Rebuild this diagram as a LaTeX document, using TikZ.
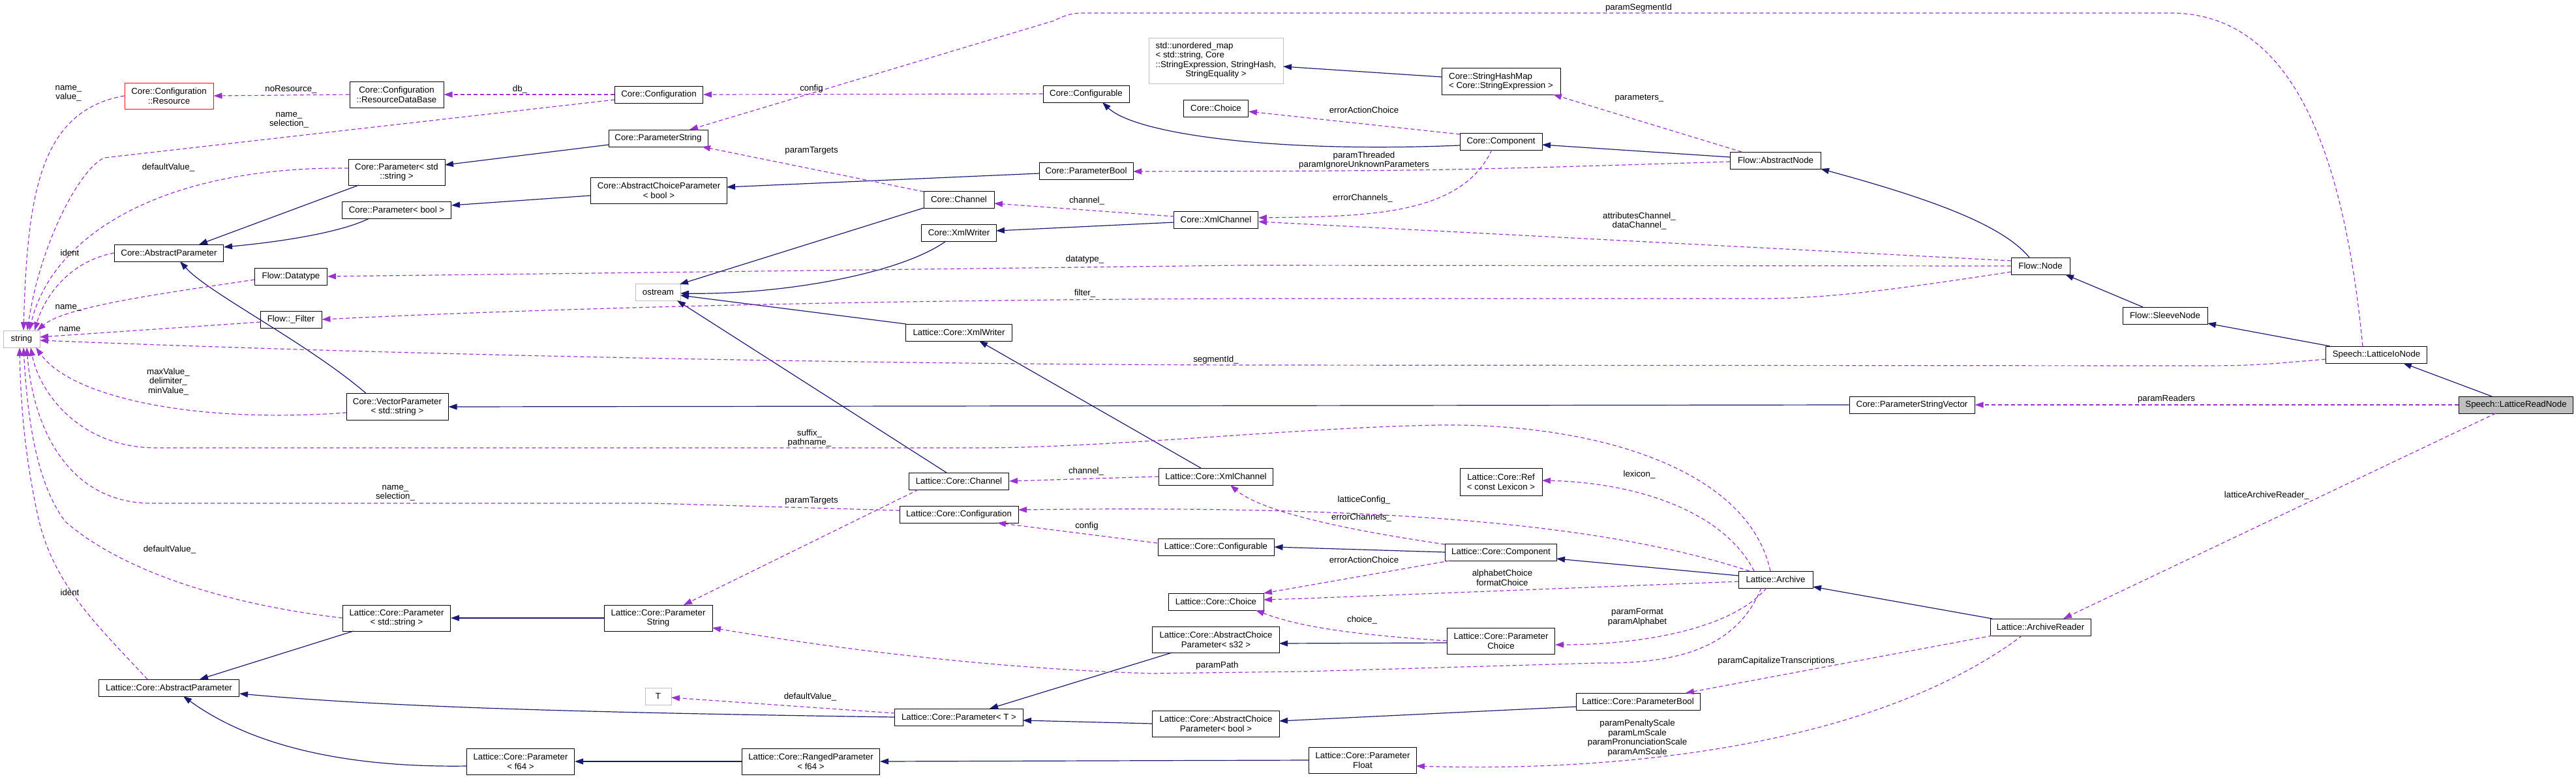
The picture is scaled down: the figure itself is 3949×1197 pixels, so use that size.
\documentclass[tikz,border=0pt]{standalone}
\usepackage{fontspec}
\setmainfont{Liberation Sans}
\usetikzlibrary{arrows.meta,calc}
\definecolor{inhcol}{HTML}{191970}
\definecolor{usecol}{HTML}{9A32CD}
\definecolor{lgray}{HTML}{BFBFBF}
\begin{document}
\begin{tikzpicture}[x=1pt,y=-1pt,
  cls/.style={draw=black, fill=white, line width=1pt, inner sep=0pt, align=center, font=\fontsize{13.3pt}{14.5pt}\selectfont},
  ext/.style={cls, draw=lgray},
  sz/.style 2 args={minimum width=#1pt, minimum height=#2pt},
  lbl/.style={inner sep=0pt, align=center, font=\fontsize{13.3pt}{14.5pt}\selectfont},
  inherit/.style={draw=inhcol, line width=1.2pt, -{Triangle[length=13pt,width=9pt]}},
  usage/.style={draw=usecol, line width=1.2pt, dash pattern=on 6pt off 4pt, -{Triangle[length=13pt,width=9pt]}},
]
\useasboundingbox (0,0) rectangle (3949,1197);
% ---------------- nodes ----------------
\node[cls, draw=red, sz={136}{40}] (resource) at (259,147) {Core::Configuration\\::Resource};
\node[cls, sz={144}{40}] (rdb) at (608,145) {Core::Configuration\\::ResourceDataBase};
\node[cls, sz={135}{26}] (cconf) at (1010,145) {Core::Configuration};
\node[cls, sz={152}{26}] (cpstr) at (1009,212) {Core::ParameterString};
\node[cls, sz={148}{40}] (cpstd) at (608,264) {Core::Parameter< std\\::string >};
\node[cls, sz={209}{40}] (cacpb) at (1010,292) {Core::AbstractChoiceParameter\\< bool >};
\node[cls, sz={167}{26}] (cpb) at (608,322) {Core::Parameter< bool >};
\node[cls, sz={167}{26}] (cap) at (259,388) {Core::AbstractParameter};
\node[ext, sz={206}{70}] (umap) at (1864,93) {\begin{tabular}{@{}l@{}}std::unordered\_map\\< std::string, Core\\::StringExpression, StringHash,\\\multicolumn{1}{@{}c@{}}{StringEquality >}\end{tabular}};
\node[cls, sz={132}{26}] (cconfigurable) at (1665,144) {Core::Configurable};
\node[cls, sz={99}{26}] (cchoice) at (1864,166) {Core::Choice};
\node[cls, sz={144}{26}] (cparambool) at (1665,262) {Core::ParameterBool};
\node[cls, sz={108}{26}] (cchannel) at (1470,306) {Core::Channel};
\node[cls, sz={129}{26}] (cxmlchannel) at (1864,337) {Core::XmlChannel};
\node[cls, sz={115}{26}] (cxmlwriter) at (1470,357) {Core::XmlWriter};
\node[cls, align=left, sz={182}{41}] (shm) at (2301,125) {Core::StringHashMap\\< Core::StringExpression >};
\node[cls, sz={126}{26}] (ccomponent) at (2301,217) {Core::Component};
\node[cls, sz={139}{26}] (fan) at (2722,246) {Flow::AbstractNode};
\node[cls, sz={111}{26}] (fdatatype) at (446,424) {Flow::Datatype};
\node[ext, sz={69}{26}] (ostream) at (1009,448) {ostream};
\node[cls, sz={94}{26}] (ffilter) at (446,490) {Flow::\_Filter};
\node[ext, sz={56}{26}] (string) at (33,520) {string};
\node[cls, sz={156}{41}] (cvp) at (609,624) {Core::VectorParameter\\< std::string >};
\node[cls, sz={163}{26}] (lxmlwriter) at (1470,510) {Lattice::Core::XmlWriter};
\node[cls, sz={153}{26}] (lchannel) at (1470,738) {Lattice::Core::Channel};
\node[cls, sz={175}{26}] (lxmlchannel) at (1864,731) {Lattice::Core::XmlChannel};
\node[cls, sz={182}{26}] (lconfiguration) at (1470,789) {Lattice::Core::Configuration};
\node[cls, sz={192}{26}] (cpsv) at (2931,621) {Core::ParameterStringVector};
\node[cls, sz={126}{42}] (lref) at (2301,739) {Lattice::Core::Ref\\< const Lexicon >};
\node[cls, sz={165}{40}] (lpstd) at (608,948) {Lattice::Core::Parameter\\< std::string >};
\node[cls, sz={215}{26}] (lap) at (259,1055) {Lattice::Core::AbstractParameter};
\node[cls, sz={165}{40}] (lpf64) at (798,1168) {Lattice::Core::Parameter\\< f64 >};
\node[cls, sz={166}{40}] (lpstring) at (1009,948) {Lattice::Core::Parameter\\String};
\node[ext, sz={40}{26}] (tnode) at (1009,1068) {T};
\node[cls, sz={178}{26}] (lconfigurable) at (1864,839) {Lattice::Core::Configurable};
\node[cls, sz={146}{26}] (lchoice) at (1864,923) {Lattice::Core::Choice};
\node[cls, sz={195}{40}] (lacps32) at (1864,981) {Lattice::Core::AbstractChoice\\Parameter< s32 >};
\node[cls, sz={197}{26}] (lpt) at (1470,1100) {Lattice::Core::Parameter< T >};
\node[cls, sz={195}{40}] (lacpbool) at (1864,1110) {Lattice::Core::AbstractChoice\\Parameter< bool >};
\node[cls, sz={211}{40}] (lrp) at (1243,1168) {Lattice::Core::RangedParameter\\< f64 >};
\node[cls, sz={171}{26}] (lcomponent) at (2301,847) {Lattice::Core::Component};
\node[cls, sz={114}{26}] (larchive) at (2722,889) {Lattice::Archive};
\node[cls, sz={165}{40}] (lpchoice) at (2301,983) {Lattice::Core::Parameter\\Choice};
\node[cls, sz={190}{26}] (lparambool) at (2511,1076) {Lattice::Core::ParameterBool};
\node[cls, sz={165}{40}] (lpfloat) at (2089,1166) {Lattice::Core::Parameter\\Float};
\node[cls, sz={154}{26}] (larchivereader) at (3128,962) {Lattice::ArchiveReader};
\node[cls, sz={90}{26}] (fnode) at (3128,408) {Flow::Node};
\node[cls, sz={130}{26}] (fsleeve) at (3319,484) {Flow::SleeveNode};
\node[cls, sz={155}{26}] (slionode) at (3643,544) {Speech::LatticeIoNode};
\node[cls, fill=lgray, sz={175}{26}] (slrn) at (3857,621) {Speech::LatticeReadNode};
% ---------------- inheritance ----------------
\draw[inherit] ($(cpstr)+(-76,10)$) -- ($(cpstd)+(74,-11)$);
\draw[inherit] ($(cpstd)+(-58,20)$) -- ($(cap)+(46,-13)$);
\draw[inherit] ($(cacpb)+(-105,8)$) -- ($(cpb)+(84,-7)$);
\draw[inherit] ($(cpb)+(-42,13)$) .. controls (520,358) and (420,372) .. ($(cap)+(84,-9)$);
\draw[inherit] ($(cparambool)+(-72,4)$) -- ($(cacpb)+(104,-5)$);
\draw[inherit] ($(ccomponent)+(-63,6)$) .. controls (1950,235) and (1740,205) .. ($(cconfigurable)+(25,13)$);
\draw[inherit] ($(fan)+(-70,-5)$) -- ($(ccomponent)+(63,5)$);
\draw[inherit] ($(fnode)+(-17,-13)$) .. controls (3070,345) and (2960,305) .. ($(fan)+(69,13)$);
\draw[inherit] ($(fsleeve)+(-34,-13)$) -- ($(fnode)+(38,13)$);
\draw[inherit] ($(slionode)+(-71,-13)$) -- ($(fsleeve)+(65,12)$);
\draw[inherit] ($(slrn)+(-37,-13)$) -- ($(slionode)+(41,13)$);
\draw[inherit] ($(cxmlchannel)+(-64,4)$) -- ($(cxmlwriter)+(57,-3)$);
\draw[inherit] ($(cchannel)+(-54,13)$) -- ($(ostream)+(33,-12)$);
\draw[inherit] ($(cxmlwriter)+(-20,13)$) .. controls (1380,420) and (1200,452) .. ($(ostream)+(34,2)$);
\draw[inherit] ($(lxmlwriter)+(-81,-13)$) -- ($(ostream)+(34,5)$);
\draw[inherit] ($(lchannel)+(-19,-13)$) -- ($(ostream)+(29,13)$);
\draw[inherit] ($(lxmlchannel)+(-23,-13)$) -- ($(lxmlwriter)+(31,13)$);
\draw[inherit] ($(cvp)+(-47,-20)$) .. controls (470,525) and (320,450) .. ($(cap)+(17,13)$);
\draw[inherit] (cpsv.west) -- (cvp.east);
\draw[inherit] (lpstring.west) -- (lpstd.east);
\draw[inherit] ($(lpstd)+(-66,20)$) -- ($(lap)+(47,-13)$);
\draw[inherit] (lpt.west) .. controls (900,1093) and (600,1085) .. ($(lap)+(108,9)$);
\draw[inherit] ($(lpf64)+(-82,7)$) .. controls (520,1178) and (380,1140) .. ($(lap)+(22,13)$);
\draw[inherit] (lrp.west) -- (lpf64.east);
\draw[inherit] (lpfloat.west) -- (lrp.east);
\draw[inherit] ($(lacps32)+(-67,20)$) -- ($(lpt)+(47,-13)$);
\draw[inherit] (lacpbool.west) -- ($(lpt)+(98,5)$);
\draw[inherit] ($(lparambool)+(-95,8)$) -- ($(lacpbool)+(97,-4)$);
\draw[inherit] ($(lpchoice)+(-82,3)$) -- ($(lacps32)+(97,6)$);
\draw[inherit] (lcomponent.west) -- (lconfigurable.east);
\draw[inherit] ($(larchive)+(-57,-6)$) -- ($(lcomponent)+(85,10)$);
\draw[inherit] ($(larchivereader)+(-74,-13)$) -- ($(larchive)+(57,11)$);
\draw[inherit] ($(shm)+(-91,-7)$) -- ($(umap)+(103,9)$);
% ---------------- usage ----------------
\draw[usage] (resource.west) .. controls (60,170) and (42,300) .. ($(string)+(3,-13)$);
\draw[usage] ($(cconf)+(-68,8)$) -- (160,242) .. controls (120,260) and (60,380) .. ($(string)+(9,-13)$);
\draw[usage] ($(cpstd)+(-74,-6)$) .. controls (250,255) and (80,360) .. ($(string)+(12,-13)$);
\draw[usage] (cap.west) .. controls (110,400) and (70,450) .. ($(string)+(20,-13)$);
\draw[usage] ($(fdatatype)+(-56,5)$) .. controls (250,450) and (100,470) .. ($(string)+(24,-13)$);
\draw[usage] ($(ffilter)+(-47,4)$) -- ($(string)+(28,-3)$);
\draw[usage] ($(slionode)+(-78,7)$) .. controls (3450,561) .. (3340,561) -- (1900,560) .. controls (1200,558) and (500,540) .. ($(string)+(28,2)$);
\draw[usage] (rdb.west) -- (resource.east);
\draw[usage] (cconf.west) -- (rdb.east);
\draw[usage] (cconfigurable.west) -- (cconf.east);
\draw[usage] ($(slionode)+(-21,-13)$) .. controls (3590,200) and (3500,20) .. (3327,20) -- (1660,20) .. controls (1640,20) and (1630,25) .. (1615,32) -- ($(cpstr)+(48,-13)$);
\draw[usage] ($(cchannel)+(-54,-12)$) -- ($(cpstr)+(67,13)$);
\draw[usage] ($(fan)+(-52,-13)$) -- ($(shm)+(80,20)$);
\draw[usage] ($(ccomponent)+(-63,-11)$) -- ($(cchoice)+(50,5)$);
\draw[usage] ($(fan)+(-70,2)$) .. controls (2200,262) .. ($(cparambool)+(72,1)$);
\draw[usage] ($(ccomponent)+(-14,13)$) .. controls (2240,330) and (2100,332) .. ($(cxmlchannel)+(65,-3)$);
\draw[usage] ($(fnode)+(-45,-8)$) -- ($(cxmlchannel)+(65,3)$);
\draw[usage] ($(cxmlchannel)+(-64,-5)$) -- ($(cchannel)+(54,6)$);
\draw[usage] (fnode.west) -- (1900,407) -- (fdatatype.east);
\draw[usage] ($(fnode)+(-45,9)$) .. controls (2900,445) and (2800,458) .. (2700,458) -- (1900,458) .. controls (1400,460) and (900,470) .. (ffilter.east);
\draw[usage] (slrn.west) -- (cpsv.east);
\draw[usage] ($(slrn)+(-31,13)$) -- ($(larchivereader)+(35,-13)$);
\draw[usage] (lxmlchannel.west) -- (lchannel.east);
\draw[usage] ($(lchannel)+(-62,13)$) -- ($(lpstring)+(39,-20)$);
\draw[usage] ($(lconfiguration)+(-91,-6)$) -- (1000,772) -- (230,772) .. controls (100,770) and (50,650) .. ($(string)+(8,13)$);
\draw[usage] ($(cvp)+(-78,9)$) .. controls (300,650) and (110,610) .. ($(string)+(22,13)$);
\draw[usage] ($(larchive)+(-8,-13)$) .. controls (2680,720) and (2450,650) .. (2210,652) .. controls (2000,655) and (1700,687) .. (1500,687) -- (240,687) .. controls (120,687) and (60,600) .. ($(string)+(14,13)$);
\draw[usage] (lpstd.west) .. controls (330,925) and (180,870) .. (100,800) .. controls (55,740) and (42,640) .. ($(string)+(3,13)$);
\draw[usage] ($(lap)+(-33,-13)$) .. controls (150,960) and (85,900) .. (60,800) .. controls (42,720) and (32,640) .. ($(string)+(-3,13)$);
\draw[usage] ($(lconfigurable)+(-90,-6)$) -- ($(lconfiguration)+(59,13)$);
\draw[usage] ($(larchive)+(-40,-13)$) .. controls (2450,800) and (2100,775) .. ($(lconfiguration)+(91,-7)$);
\draw[usage] ($(larchive)+(-33,-13)$) .. controls (2640,780) and (2500,740) .. ($(lref)+(63,-2)$);
\draw[usage] ($(lcomponent)+(-86,-12)$) .. controls (2100,818) and (1940,790) .. ($(lxmlchannel)+(22,13)$);
\draw[usage] ($(lcomponent)+(-78,13)$) -- ($(lchoice)+(73,-13)$);
\draw[usage] ($(larchive)+(-57,3)$) -- (2000,918) -- ($(lchoice)+(73,-3)$);
\draw[usage] (lpchoice.west) .. controls (2100,975) and (2000,965) .. ($(lchoice)+(61,13)$);
\draw[usage] ($(larchive)+(-14,13)$) .. controls (2650,970) and (2500,989) .. ($(lpchoice)+(83,6)$);
\draw[usage] ($(larchive)+(-22,13)$) .. controls (2660,1000) and (2560,1018) .. (2450,1017) -- (2000,1030) -- (1765,1033) .. controls (1500,1025) and (1250,990) .. ($(lpstring)+(83,15)$);
\draw[usage] ($(larchivereader)+(-74,13)$) -- ($(lparambool)+(73,-13)$);
\draw[usage] ($(larchivereader)+(-28,13)$) .. controls (2880,1140) and (2500,1185) .. ($(lpfloat)+(82,9)$);
\draw[usage] ($(lpt)+(-98,-6)$) -- ($(tnode)+(20,2)$);
% ---------------- labels ----------------
\node[lbl] (l1) at (105,143) {name\_\\value\_};
\node[lbl] (l2) at (446,137) {noResource\_};
\node[lbl] (l3) at (797,137) {db\_};
\node[lbl] (l4) at (443,184) {name\_\\selection\_};
\node[lbl] (l5) at (258,257) {defaultValue\_};
\node[lbl] (l6) at (107,388) {ident};
\node[lbl] (l7) at (1244,136) {config};
\node[lbl] (l8) at (1244,231) {paramTargets};
\node[lbl] (l9) at (1666,308) {channel\_};
\node[lbl] (l10) at (1663,398) {datatype\_};
\node[lbl] (l11) at (2512,12) {paramSegmentId};
\node[lbl] (l12) at (2513,151) {parameters\_};
\node[lbl] (l13) at (2091,169) {errorActionChoice};
\node[lbl] (l14) at (2091,246) {paramThreaded\\paramIgnoreUnknownParameters};
\node[lbl] (l15) at (2089,304) {errorChannels\_};
\node[lbl] (l16) at (2513,339) {attributesChannel\_\\dataChannel\_};
\node[lbl] (l17) at (3321,612) {paramReaders};
\node[lbl] (l18) at (3475,760) {latticeArchiveReader\_};
\node[lbl] (l19) at (105,472) {name\_};
\node[lbl] (l20) at (107,505) {name};
\node[lbl] (l21) at (258,585) {maxValue\_\\delimiter\_\\minValue\_};
\node[lbl] (l22) at (606,756) {name\_\\selection\_};
\node[lbl] (l23) at (1663,450) {filter\_};
\node[lbl] (l24) at (1864,552) {segmentId\_};
\node[lbl] (l25) at (1241,672) {suffix\_\\pathname\_};
\node[lbl] (l26) at (1665,723) {channel\_};
\node[lbl] (l27) at (1244,768) {paramTargets};
\node[lbl] (l28) at (2513,728) {lexicon\_};
\node[lbl] (l29) at (2091,767) {latticeConfig\_};
\node[lbl] (l30) at (2087,794) {errorChannels\_};
\node[lbl] (l31) at (260,843) {defaultValue\_};
\node[lbl] (l32) at (107,909) {ident};
\node[lbl] (l33) at (1666,807) {config};
\node[lbl] (l34) at (1866,1021) {paramPath};
\node[lbl] (l35) at (1242,1069) {defaultValue\_};
\node[lbl] (l36) at (2091,859) {errorActionChoice};
\node[lbl] (l37) at (2303,886) {alphabetChoice\\formatChoice};
\node[lbl] (l38) at (2088,951) {choice\_};
\node[lbl] (l39) at (2510,947) {paramFormat\\paramAlphabet};
\node[lbl] (l40) at (2723,1014) {paramCapitalizeTranscriptions};
\node[lbl] (l41) at (2510,1132) {paramPenaltyScale\\paramLmScale\\paramPronunciationScale\\paramAmScale};
\end{tikzpicture}
\end{document}
